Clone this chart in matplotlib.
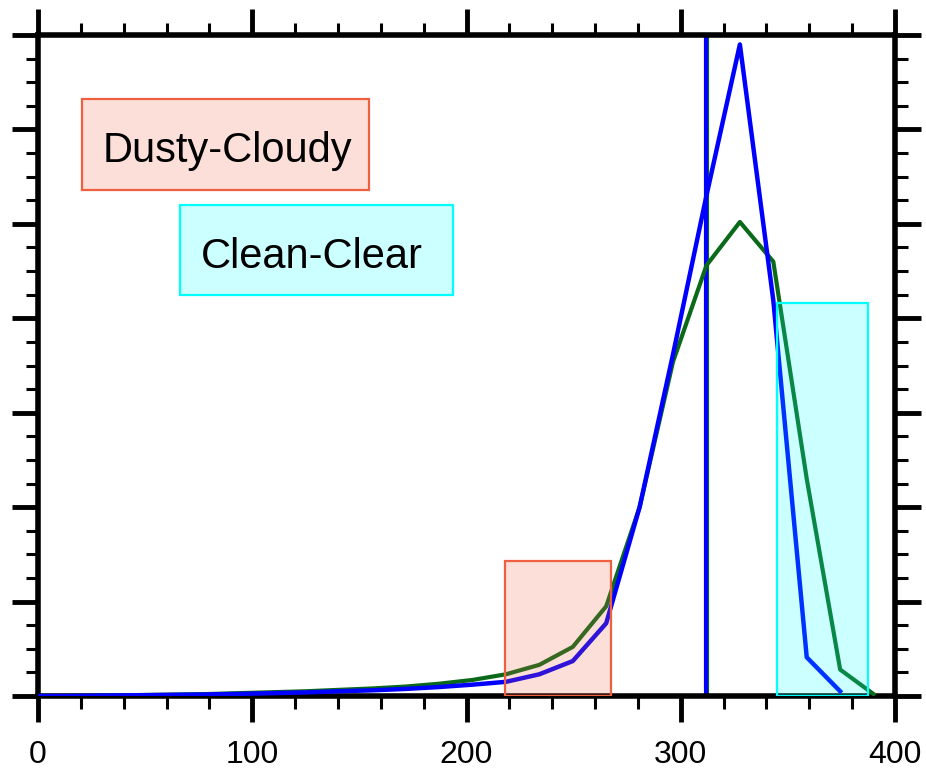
import matplotlib
matplotlib.use("Agg")
import matplotlib.pyplot as plt
from matplotlib.patches import Rectangle
from matplotlib.ticker import MultipleLocator

plt.rcParams['font.family'] = ['Liberation Sans', 'DejaVu Sans']

# bin positions
x = [15.6 * k for k in range(26)]
green = [0, 0, 0.005, 0.01, 0.015, 0.02, 0.03, 0.04, 0.05, 0.065, 0.08, 0.10, 0.13, 0.17,
         0.23, 0.33, 0.52, 0.95, 2.0, 3.54, 4.56, 5.02, 4.6, 2.3, 0.28, 0.02]
blue = [0, 0, 0.005, 0.008, 0.012, 0.016, 0.022, 0.03, 0.038, 0.05, 0.06, 0.075, 0.095, 0.12,
        0.15, 0.23, 0.37, 0.77, 2.0, 3.62, 5.3, 6.9, 4.19, 0.41, 0.05]
x_blue = x[:len(blue)]
mean_blue = 311.6
mean_green = 312.4

xticks = [0, 100, 200, 300, 400]

# highlighted ranges (x0, x1, top)
dusty_box = (218, 267.4, 1.43)
clean_box = (345, 387.4, 4.16)

salmon_edge = '#EE6040'
salmon_fill = (0.94, 0.38, 0.25, 0.2)
cyan_edge = '#00FFFF'
cyan_fill = (0.0, 1.0, 1.0, 0.2)

fig = plt.figure(figsize=(9.26, 7.70), dpi=100)
ax = fig.add_axes([38/926, 74/770, (895-38)/926, (696-35)/770])

ax.plot([mean_green, mean_green], [0, 7], color='#0a6a1a', lw=3, zorder=2, solid_capstyle='butt')
ax.plot([mean_blue, mean_blue], [0, 7], color='#0000FF', lw=3, zorder=2.1, solid_capstyle='butt')
ax.plot(x, green, color='#0a6a1a', lw=3, zorder=3)
ax.plot(x_blue, blue, color='#0000FF', lw=3.2, zorder=4)

for (x0, x1, top), fc, ec in [(dusty_box, salmon_fill, salmon_edge), (clean_box, cyan_fill, cyan_edge)]:
    ax.add_patch(Rectangle((x0, 0), x1 - x0, top, facecolor=fc, edgecolor=ec, lw=1.6, zorder=5))

# label boxes
ax.add_patch(Rectangle((20.5, 5.36), 134.0, 0.96, facecolor=salmon_fill, edgecolor=salmon_edge, lw=1.6, zorder=5))
ax.add_patch(Rectangle((66.3, 4.25), 127.4, 0.95, facecolor=cyan_fill, edgecolor=cyan_edge, lw=1.6, zorder=5))
ax.text(88.5, 5.655, 'Dusty-Cloudy', fontsize=30, ha='center', va='baseline', zorder=6)
ax.text(127.6, 4.53, 'Clean-Clear', fontsize=30, ha='center', va='baseline', zorder=6)

ax.set_xlim(0, 400)
ax.set_ylim(0, 7)
ax.set_xticks(xticks)
ax.set_xticklabels([str(t) for t in xticks])
ax.xaxis.set_minor_locator(MultipleLocator(20))
ax.yaxis.set_major_locator(MultipleLocator(1))
ax.yaxis.set_minor_locator(MultipleLocator(0.25))
ax.tick_params(which='both', direction='out', top=True, right=True, labelleft=False)
ax.tick_params(which='major', length=19, width=3.5)
ax.tick_params(which='minor', length=9, width=2.2)
ax.tick_params(axis='x', labelsize=23, pad=13)
for s in ax.spines.values():
    s.set_linewidth(4)

fig.savefig('out.png', dpi=100)
